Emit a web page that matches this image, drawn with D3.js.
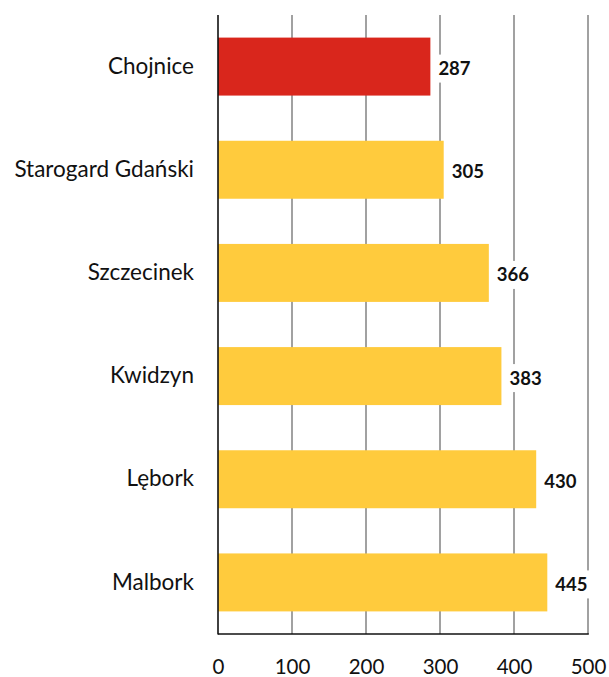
<!DOCTYPE html>
<html><head><meta charset="utf-8">
<script src="https://cdn.jsdelivr.net/npm/d3@7"></script>
<style>
body{margin:0;background:#fff}
text{font-family:Lato,"Open Sans",sans-serif}
</style></head><body>
<svg id="c" width="609" height="677"></svg>
<script>
const categories = ["Chojnice","Starogard Gdański","Szczecinek","Kwidzyn","Lębork","Malbork"];
const values = [287,305,366,383,430,445];
const colors = ["#d9261c","#ffcb3d","#ffcb3d","#ffcb3d","#ffcb3d","#ffcb3d"];
const ticks = [0,100,200,300,400,500];

const svg = d3.select("#c");
const x = d3.scaleLinear().domain([0,500]).range([218,588]);
const y = d3.scaleBand().domain(categories).range([15,634]).paddingInner(0.438).paddingOuter(0.219);

// gridlines
svg.append("g").selectAll("line").data(ticks.slice(1)).join("line")
  .attr("x1",d=>x(d)).attr("x2",d=>x(d)).attr("y1",15).attr("y2",634)
  .attr("stroke","#8a8a8a").attr("stroke-width",1.6);

// bars
svg.append("g").selectAll("rect").data(values).join("rect")
  .attr("x",x(0)).attr("y",(d,i)=>y(categories[i]))
  .attr("width",d=>x(d)-x(0)).attr("height",y.bandwidth())
  .attr("fill",(d,i)=>colors[i]);

// value labels with white background
const lab = svg.append("g").selectAll("g").data(values).join("g")
  .attr("transform",(d,i)=>`translate(${x(d)+8},${y(categories[i])+y.bandwidth()/2+2})`);
lab.append("rect").attr("x",-2).attr("y",-14).attr("width",38).attr("height",28).attr("fill","#fff");
lab.append("text").text(d=>d).attr("dy","0.35em").attr("font-size",18.5).attr("font-weight","bold").attr("fill","#111");

// axes lines
svg.append("line").attr("x1",x(0)).attr("x2",x(0)).attr("y1",15).attr("y2",634.5).attr("stroke","#111").attr("stroke-width",1.6);
svg.append("line").attr("x1",x(0)).attr("x2",x(500)+0.8).attr("y1",634).attr("y2",634).attr("stroke","#111").attr("stroke-width",1.6);

// x tick labels
const xa = d3.axisBottom(x).tickValues(ticks).tickSize(0).tickPadding(0);
const gx = svg.append("g").attr("transform","translate(0,667)").call(xa);
gx.select(".domain").remove();
gx.selectAll("text").attr("dy","0.35em").attr("y",0).attr("font-size",20.5).attr("fill","#111")
  .style("font-family","Lato,'Open Sans',sans-serif");

// category labels
const ya = d3.axisLeft(y).tickSize(0).tickPadding(0);
const gy = svg.append("g").attr("transform","translate(194,0)").call(ya);
gy.select(".domain").remove();
gy.selectAll("text").attr("font-size",22.5).attr("fill","#111")
  .style("font-family","Lato,'Open Sans',sans-serif");
</script></body></html>
